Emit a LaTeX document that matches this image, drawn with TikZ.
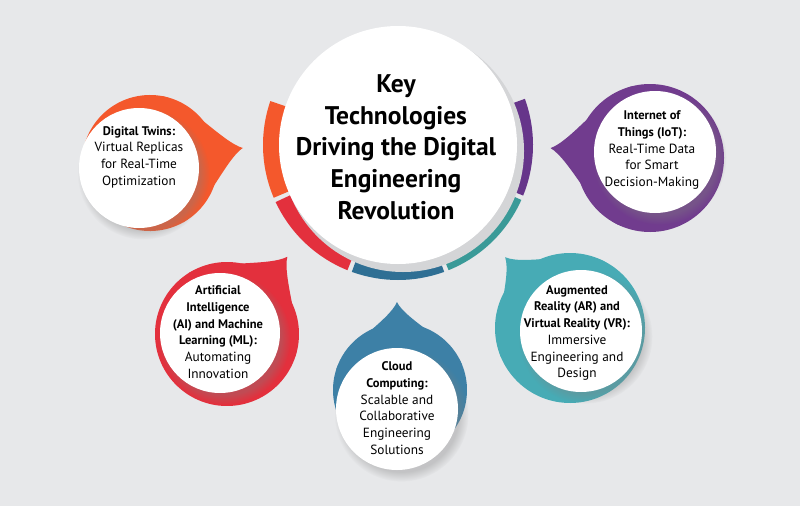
\documentclass[tikz,border=0pt]{standalone}
\usepackage{fontspec}
\setmainfont{PT Sans}
\usetikzlibrary{shadows}

\definecolor{bg}{HTML}{E7E8EA}
\definecolor{twinorange}{HTML}{F4582C}
\definecolor{aired}{HTML}{E3303D}
\definecolor{cloudblue}{HTML}{3D80A6}
\definecolor{arteal}{HTML}{47ABB5}
\definecolor{iotpurple}{HTML}{713C8E}
\definecolor{ringblue}{HTML}{2F6F94}
\definecolor{ringteal}{HTML}{3A9A98}
\definecolor{ringpurple}{HTML}{66358A}
\definecolor{shadowgray}{HTML}{D4D5D7}

% drop shape: centre x, centre y, radius, turn, tip distance, colour
\newcommand\drop[6]{%
  \begin{scope}[shift={(#1,#2)},rotate=#4]
    \fill[#6] (0,0) circle (#3);
    \fill[#6] (#5,0) .. controls (#5-0.27*#3,0.12*#3) and (0.67*#3,0.82*#3) .. (0.342*#3,0.94*#3)
      -- (0.342*#3,-0.94*#3) .. controls (0.67*#3,-0.82*#3) and (#5-0.27*#3,-0.12*#3) .. (#5,0) -- cycle;
  \end{scope}}

% one piece of the ring round the centre: from, to, colour
\newcommand\ringpart[3]{%
  \fill[#3] (398,145) ++(#1:135) arc[start angle=#1,end angle=#2,radius=135]
    -- ++(#2:-35) arc[start angle=#2,end angle=#1,radius=100] -- cycle;}

% bold heading lines inside a bubble
\newcommand\hd[1]{{\fontsize{12.5}{16.7}\selectfont\bfseries #1}}

\begin{document}
\begin{tikzpicture}[x=1pt,y=-1pt,
  bubbletext/.style={align=center,inner sep=0pt,font=\fontsize{13.3}{16.7}\selectfont},
  titletext/.style={align=center,inner sep=0pt,font=\bfseries\fontsize{25.5}{31.7}\selectfont},
  whitedisc/.style={fill=white,circular drop shadow={shadow xshift=4pt,shadow yshift=-5pt,opacity=.35}}]
\tikzstyle{every node}+=[text=black]
\fill[bg] (0,0) rectangle (800,506);
\useasboundingbox (0,0) rectangle (800,506);

% ring
\ringpart{157}{199}{twinorange}
\ringpart{112}{155}{aired}
\ringpart{70}{110}{ringblue}
\ringpart{24}{68}{ringteal}
\ringpart{-20}{22}{ringpurple}

% centre disc
\fill[shadowgray] (403,151) circle (121);
\fill[white] (398,145) circle (119);
\node[titletext] (title) at (396,147) {Key\\Technologies\\Driving the Digital\\Engineering\\Revolution};

% bubbles
\drop{150}{163}{68}{9.2}{94}{twinorange}
\drop{227}{334}{72}{52}{98}{aired}
\drop{400}{390}{67}{92}{88}{cloudblue}
\drop{570}{328}{75}{132.5}{96}{arteal}
\drop{650}{158}{74}{174.3}{100}{iotpurple}

\fill[whitedisc] (139,168) circle (60);
\fill[whitedisc] (220,333) circle (60);
\fill[whitedisc] (397,409) circle (61);
\fill[whitedisc] (581,331) circle (61);
\fill[whitedisc] (655,152) circle (61);

\node[bubbletext] (twins) at (139,157) {\hd{Digital Twins:}\\Virtual Replicas\\for Real-Time\\Optimization};
\node[bubbletext] (ai) at (218,332) {\hd{Artificial}\\\hd{Intelligence}\\\hd{(AI) and Machine}\\\hd{Learning (ML):}\\Automating\\Innovation};
\node[bubbletext] (cloud) at (397,408) {\hd{Cloud}\\\hd{Computing:}\\Scalable and\\Collaborative\\Engineering\\Solutions};
\node[bubbletext] (arvr) at (577,333) {\hd{Augmented}\\\hd{Reality (AR) and}\\\hd{Virtual Reality (VR):}\\Immersive\\Engineering and\\Design};
\node[bubbletext] (iot) at (652,150) {\hd{Internet of}\\\hd{Things (IoT):}\\Real-Time Data\\for Smart\\Decision-Making};
\end{tikzpicture}
\end{document}
